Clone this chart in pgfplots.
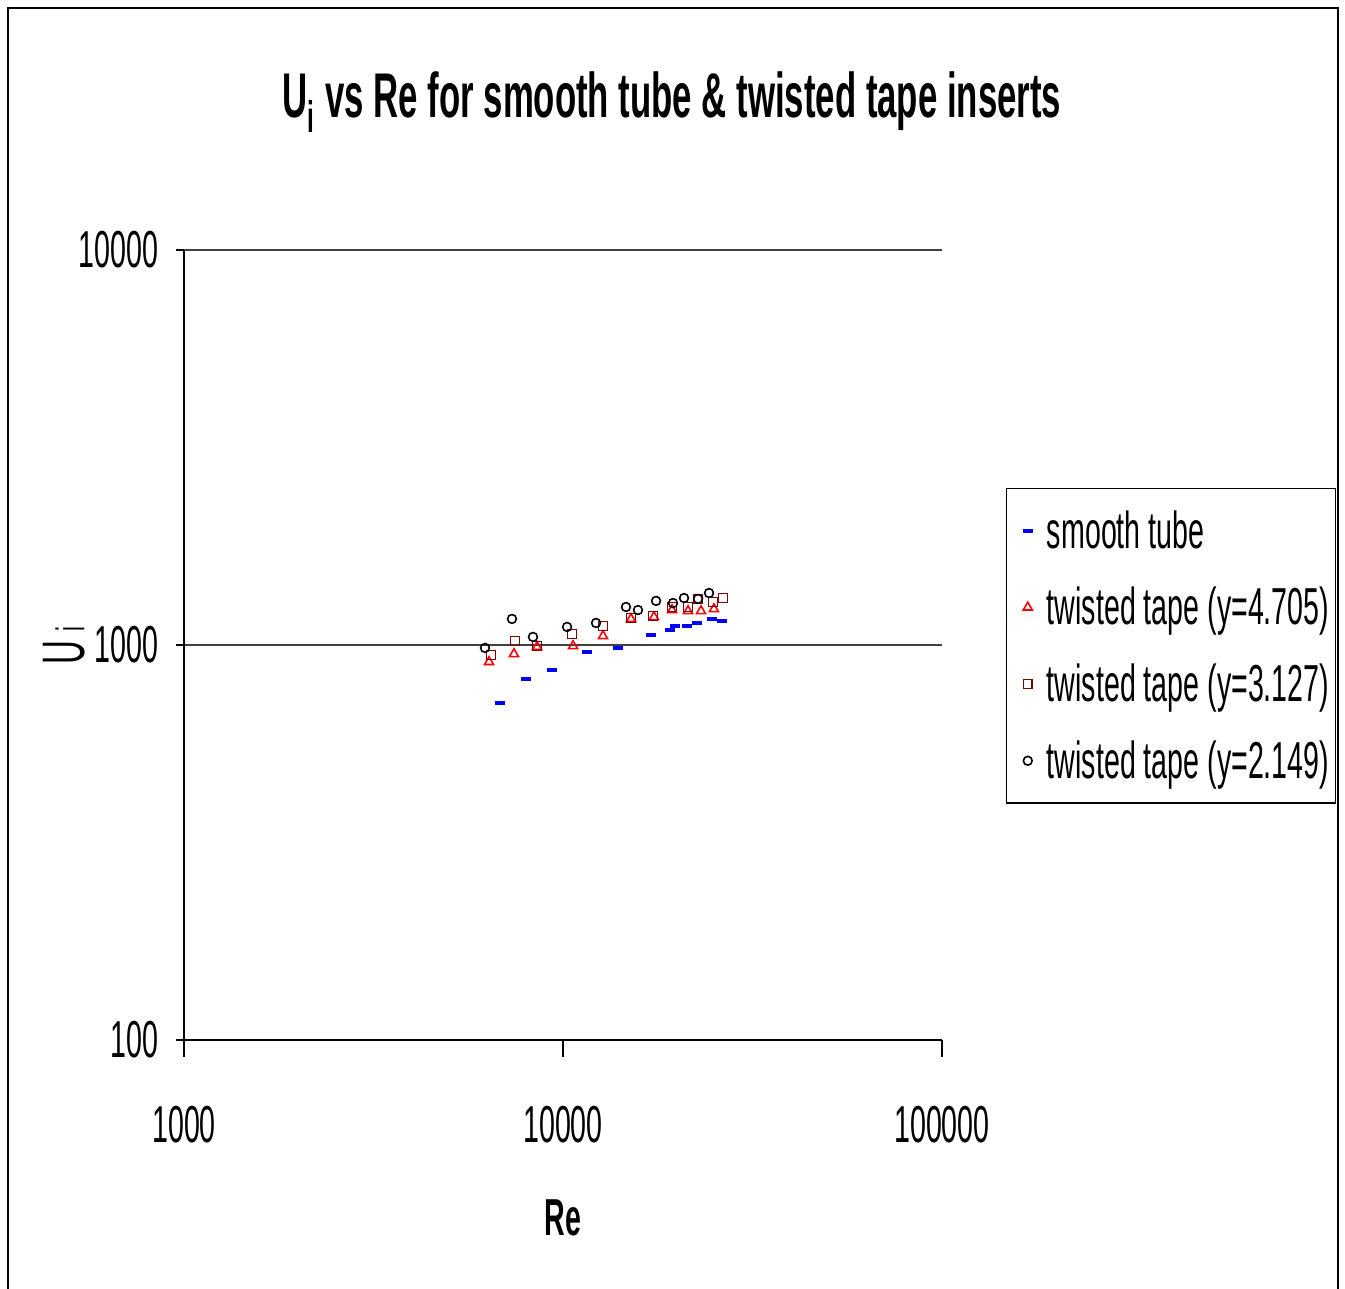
\documentclass[border=0pt]{standalone}
\usepackage{fontspec}
\setmainfont[FakeStretch=0.55]{Liberation Sans}
\usepackage{pgfplots}
\pgfplotsset{compat=1.18}
\definecolor{dkred}{RGB}{128,0,0}
\begin{document}
\begin{tikzpicture}
\path[use as bounding box] (-92pt,-124.5pt) rectangle (580.5pt,520pt);
\draw[line width=1pt] (-88pt,-130pt) -- (-88pt,516pt) -- (577pt,516pt) -- (577pt,-130pt);
\node[font=\fontsize{31.6}{31.6}\selectfont\bfseries, anchor=base] at (244pt,461pt)
  {U\textsubscript{i} vs Re for smooth tube \& twisted tape inserts};
\node[font=\fontsize{30}{30}\selectfont, rotate=90, anchor=center] at (-60pt,197pt)
  {U {\fontsize{20}{20}\selectfont i}};
\begin{axis}[at={(0pt,0pt)}, anchor=south west, scale only axis,
  width=379pt, height=395pt,
  xmode=log, ymode=log, xmin=1000, xmax=100000, ymin=100, ymax=10000,
  xtick={1000,10000,100000}, ytick={100,1000,10000},
  xticklabels={1000,10000,100000}, yticklabels={100,1000,10000},
  xminorticks=false, yminorticks=false,
  axis x line*=bottom, axis y line*=left,
  axis line style={black, line width=0.6pt, -},
  tick align=outside, major tick length=8.5pt,
  tick style={black, line width=0.6pt},
  ytick style={/pgfplots/major tick length=4pt},
  ymajorgrids, grid style={black!75, line width=0.6pt},
  ticklabel style={font=\fontsize{26}{26}\selectfont},
  xticklabel style={yshift=-21pt},
  yticklabel style={xshift=-1pt},
  xlabel={\textbf{Re}},
  xlabel style={font=\fontsize{26}{26}\selectfont, at={(0.5,0)}, anchor=center, yshift=-89pt},
  legend image code/.code={
    \path (0pt,0pt) (15pt,0pt);
    \draw[mark repeat=2, mark phase=2, #1] plot coordinates {(0pt,0pt) (7.5pt,0pt) (15pt,0pt)};},
  legend style={at={(1.0844,0.699)}, anchor=north west, draw=black, line width=0.6pt,
    font=\fontsize{26}{26}\selectfont, row sep=14pt, inner xsep=2pt, inner ysep=9pt,
    nodes={inner xsep=1pt},
    cells={anchor=west}},
  legend cell align=left,
]
\addplot[only marks, mark=-, mark size=2.6pt, blue, line width=2.2pt] coordinates {
(6820,713) (7985,820) (9350,864) (11570,960) (13970,983) (17070,1060)
(19150,1091) (19750,1117) (21240,1117) (22570,1137) (24720,1164) (26280,1150)};
\addlegendentry{smooth tube}
\addplot[only marks, mark=triangle, mark size=2.6pt, red, line width=0.8pt] coordinates {
(6380,906) (7425,949) (8540,989) (10630,994) (12750,1054) (15110,1164)
(17380,1177) (19400,1226) (21370,1219) (23130,1219) (25020,1233)};
\addlegendentry{twisted tape (y=4.705)}
\addplot[only marks, mark=square, mark size=2.2pt, dkred, line width=0.8pt] coordinates {
(6457,943) (7470,1024) (8540,994) (10560,1066) (12750,1117) (15110,1170)
(17280,1184) (19400,1248) (21370,1248) (22710,1308) (24880,1285) (26440,1315)};
\addlegendentry{twisted tape (y=3.127)}
\addplot[only marks, mark=o, mark size=2.2pt, black, line width=0.8pt] coordinates {
(6225,983) (7335,1164) (8333,1048) (10250,1111) (12220,1137) (14660,1248)
(15770,1226) (17600,1293) (19510,1277) (20860,1315) (22710,1308) (24280,1354)};
\addlegendentry{twisted tape (y=2.149)}
\end{axis}
\end{tikzpicture}
\end{document}
